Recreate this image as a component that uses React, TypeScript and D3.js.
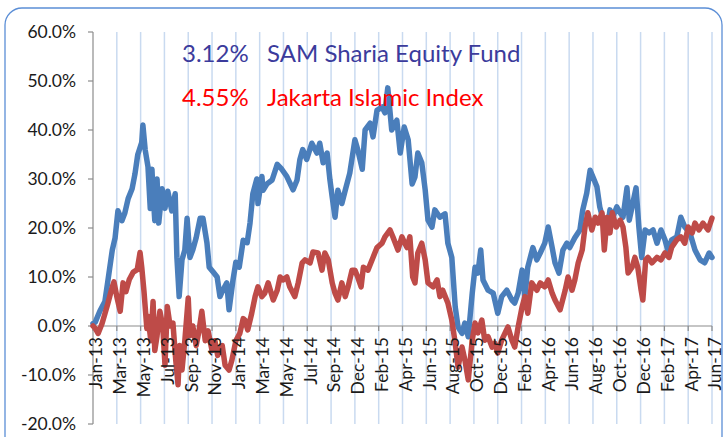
import * as d3 from 'd3';

// trading days on the category axis, one label every 42 days
const TOTAL_DAYS = 1092;
const LABEL_STEP = 42;

const X_LABELS = [
  'Jan-13', 'Mar-13', 'May-13', 'Jul-13', 'Sep-13', 'Nov-13', 'Jan-14', 'Mar-14', 'May-14',
  'Jul-14', 'Sep-14', 'Dec-14', 'Feb-15', 'Apr-15', 'Jun-15', 'Aug-15', 'Oct-15', 'Dec-15',
  'Feb-16', 'Apr-16', 'Jun-16', 'Aug-16', 'Oct-16', 'Dec-16', 'Feb-17', 'Apr-17', 'Jun-17',
];

const Y_TICKS = [-20, -10, 0, 10, 20, 30, 40, 50, 60];

// [trading day, cumulative return %]
const SAM_SERIES: [number, number][] = [
  [0, 0.5], [4, 0.8], [12, 3], [21, 5], [26, 9], [34, 15.5], [39, 18], [44, 23.5], [51, 21.5],
  [56, 23], [62, 26], [69, 28], [74, 31], [79, 35], [86, 37.5], [88, 41], [92, 36], [97, 32.5],
  [101, 24], [104, 32], [106, 27], [109, 21.5], [113, 30], [116, 21], [122, 28], [127, 24],
  [132, 27.5], [139, 23.5], [145, 27], [148, 14], [152, 6], [157, 13.5], [162, 15.5], [166, 22],
  [171, 14], [176, 15.5], [182, 18], [189, 22], [194, 22], [201, 17], [205, 12], [212, 11],
  [219, 10], [224, 6], [229, 7.3], [236, 8.8], [240, 3.3], [247, 9.4], [252, 13], [258, 12],
  [265, 17.5], [272, 17], [277, 21], [282, 27], [289, 30], [291, 25], [298, 30.5], [300, 27.7],
  [307, 29], [316, 29.8], [325, 33], [333, 32], [342, 30.5], [353, 27.8], [360, 29.8], [365, 34],
  [370, 36], [377, 34], [386, 37.3], [395, 35.3], [400, 37.3], [406, 33.3], [413, 35.3],
  [418, 29.8], [422, 26.3], [427, 22.2], [432, 27.7], [439, 25], [445, 27.7], [453, 31.2],
  [462, 38], [467, 36], [475, 32], [480, 40], [489, 41.4], [494, 38.6], [501, 44], [510, 44.7],
  [515, 43.5], [520, 48.6], [527, 40], [536, 42], [542, 35.3], [549, 40.6], [556, 38], [563, 29],
  [568, 30.4], [573, 35.3], [580, 33.3], [586, 27.8], [591, 21.6], [598, 20.2], [603, 23.7],
  [612, 22.2], [621, 22.9], [626, 16.9], [633, 14], [639, 3.9], [644, -0.2], [651, -1.5],
  [656, 0.6], [662, -2.2], [669, 6.7], [674, 12], [679, 10.8], [684, 15.5], [688, 9.4],
  [697, 7.3], [706, 6.7], [714, 2.6], [721, 6], [730, 7.3], [739, 5.3], [744, 4.7], [750, 6.7],
  [757, 11.4], [762, 6], [767, 12], [776, 16], [783, 13.5], [789, 14.9], [797, 16.9], [803, 20.2],
  [810, 16], [815, 12.9], [822, 10.8], [829, 15.5], [836, 16.9], [841, 16], [850, 18],
  [859, 19.6], [864, 23.7], [871, 27.1], [877, 31.8], [882, 30.4], [889, 28.4], [894, 24.3],
  [900, 21.6], [907, 19], [912, 23.7], [917, 22.2], [924, 24.3], [930, 23.1], [935, 22.2],
  [942, 28.2], [946, 21.6], [951, 24.3], [958, 28.2], [963, 20.2], [968, 14], [974, 19.6],
  [981, 19], [988, 19.6], [995, 16.9], [1002, 19.6], [1009, 17.6], [1014, 15.5], [1021, 17.6],
  [1030, 18.2], [1037, 22.2], [1044, 20.2], [1053, 19], [1062, 15.5], [1071, 13.5], [1079, 12.9],
  [1087, 14.9], [1092, 14],
];

const JII_SERIES: [number, number][] = [
  [0, 0], [4, -0.5], [9, -1.5], [16, 0.5], [21, 2.5], [26, 4.5], [34, 8], [37, 9], [42, 6],
  [48, 3], [53, 8.8], [58, 7], [64, 9.5], [71, 11], [78, 11.5], [83, 15], [86, 12], [90, 7],
  [95, -0.5], [97, 2], [102, -3], [106, 5], [109, -5], [113, -2], [118, 3], [123, 0], [127, -8],
  [131, 4], [136, 0], [141, 0.6], [146, -7], [150, -12], [153, -4], [157, -9], [162, -3],
  [168, 5.7], [171, -2], [176, 0], [182, -4], [187, -1], [192, 3], [198, -3], [203, -1],
  [210, -5], [215, -3], [220, -6], [228, -4], [233, -8], [240, -9], [245, -7], [252, -3],
  [259, -1.5], [265, 1.5], [268, 1.2], [273, -0.8], [280, 2.6], [286, 6], [291, 8], [298, 6],
  [303, 6.7], [309, 8.8], [318, 5.3], [325, 7.3], [330, 10], [335, 9.4], [342, 10], [347, 8],
  [356, 6], [362, 8.8], [369, 12.9], [374, 13.5], [383, 12.9], [388, 15.1], [397, 14.9],
  [404, 11.4], [409, 14.9], [415, 13.5], [422, 8.8], [427, 6.7], [432, 5.3], [439, 8.8], [445, 6],
  [450, 8], [457, 11.4], [462, 11.4], [467, 10], [473, 8], [477, 12], [485, 11.4], [494, 14],
  [501, 16], [510, 16.9], [515, 18.2], [524, 19.6], [529, 18.2], [538, 15.5], [545, 18.2],
  [550, 16.9], [554, 16], [559, 18.2], [564, 10], [568, 8.8], [573, 14.9], [580, 16.9],
  [586, 13.5], [591, 8.8], [600, 8], [607, 9.4], [612, 6], [617, 7.3], [626, 4.7], [633, 1.2],
  [639, -3.5], [644, -8.4], [651, -4.3], [656, -6.9], [662, -11], [669, -2.9], [674, 0.6],
  [679, -1.4], [686, 1.2], [691, -2.9], [697, -2.2], [704, -4.3], [709, -3.5], [714, -5.5],
  [721, -2.9], [727, -1.4], [732, -0.2], [739, -2.9], [744, -4.3], [750, -0.2], [757, 3.9],
  [762, 6], [767, 2.6], [774, 8.8], [783, 7.3], [789, 8.8], [797, 8], [803, 9.4], [810, 6.7],
  [815, 5.3], [824, 3.3], [833, 7.3], [838, 10], [845, 7.3], [850, 9.4], [856, 12.9], [863, 15.5],
  [868, 20.2], [873, 23.1], [880, 19.6], [886, 22.2], [891, 21], [898, 23.1], [902, 15.5],
  [907, 22.2], [912, 19], [916, 23.1], [923, 20.2], [930, 21.6], [935, 20.2], [940, 16.1],
  [944, 10.8], [951, 12], [956, 14], [961, 12], [967, 7.3], [970, 5.3], [975, 13.5], [979, 14],
  [986, 12.9], [995, 14], [1002, 13.5], [1009, 14.9], [1016, 14], [1021, 16.1], [1030, 17.6],
  [1037, 18.2], [1044, 16.9], [1050, 20.2], [1057, 19], [1062, 21], [1069, 19.6], [1076, 21],
  [1085, 19.6], [1092, 22],
];

const LEGEND = [
  { value: '3.12%', name: 'SAM Sharia Equity Fund', color: '#3B3B9C' },
  { value: '4.55%', name: 'Jakarta Islamic Index', color: '#FF0000' },
];

const WIDTH = 726;
const HEIGHT = 437;
const FONT = 'Lato, "Open Sans", sans-serif';

const App = () => {
  const x = d3.scaleLinear().domain([0, TOTAL_DAYS]).range([93, 712]);
  const y = d3.scaleLinear().domain([-20, 60]).range([424, 32]);

  const line = d3.line<[number, number]>()
    .x(d => x(d[0]))
    .y(d => y(d[1]))
    .curve(d3.curveLinear);

  const labelDays = X_LABELS.map((_, i) => i * LABEL_STEP);

  return (
    <svg
      width={WIDTH}
      height={HEIGHT}
      style={{ position: 'absolute', left: 0, top: 0, background: '#fff' }}
      fontFamily={FONT}
    >
      {/* outer frame */}
      <rect x={5} y={8} width={717} height={445} rx={17} fill="#fff" stroke="#5B8ED6" strokeWidth={1.3} />

      {/* vertical gridlines */}
      {labelDays.slice(1).map(d => (
        <line key={`g${d}`} x1={x(d)} x2={x(d)} y1={y(60)} y2={y(-20)} stroke="#C9DAF0" strokeWidth={1.5} />
      ))}

      {/* y axis */}
      <line x1={x(0)} x2={x(0)} y1={y(60)} y2={y(-20)} stroke="#8C8C8C" strokeWidth={1.2} />
      {Y_TICKS.map(t => (
        <g key={`y${t}`}>
          <line x1={x(0) - 5} x2={x(0)} y1={y(t)} y2={y(t)} stroke="#8C8C8C" strokeWidth={1.2} />
          <text x={76} y={y(t)} dy="0.36em" textAnchor="end" fontSize={17.5} fill="#1a1a1a">
            {`${t.toFixed(1)}%`}
          </text>
        </g>
      ))}

      {/* zero line + category ticks */}
      <line x1={x(0)} x2={x(TOTAL_DAYS)} y1={y(0)} y2={y(0)} stroke="#8C8C8C" strokeWidth={1.2} />
      {labelDays.map(d => (
        <line key={`t${d}`} x1={x(d)} x2={x(d)} y1={y(0)} y2={y(0) + 5} stroke="#8C8C8C" strokeWidth={1.2} />
      ))}

      {/* series */}
      <path d={line(SAM_SERIES) || ''} fill="none" stroke="#4A7EBB" strokeWidth={5.5} strokeLinejoin="round" strokeLinecap="round" />
      <path d={line(JII_SERIES) || ''} fill="none" stroke="#BE4B48" strokeWidth={5.5} strokeLinejoin="round" strokeLinecap="round" />

      {/* x labels, rotated */}
      {X_LABELS.map((lab, i) => (
        <text
          key={lab}
          transform={`translate(${x(labelDays[i]) + 3},${y(0) + 11}) rotate(-90)`}
          dy="0.36em"
          textAnchor="end"
          fontSize={17.5}
          fill="#1a1a1a"
        >
          {lab}
        </text>
      ))}

      {/* legend text */}
      {LEGEND.map((l, i) => (
        <g key={l.name} fill={l.color} fontSize={24}>
          <text x={182} y={62 + i * 44}>{l.value}</text>
          <text x={267} y={62 + i * 44}>{l.name}</text>
        </g>
      ))}
    </svg>
  );
};

export default App;
